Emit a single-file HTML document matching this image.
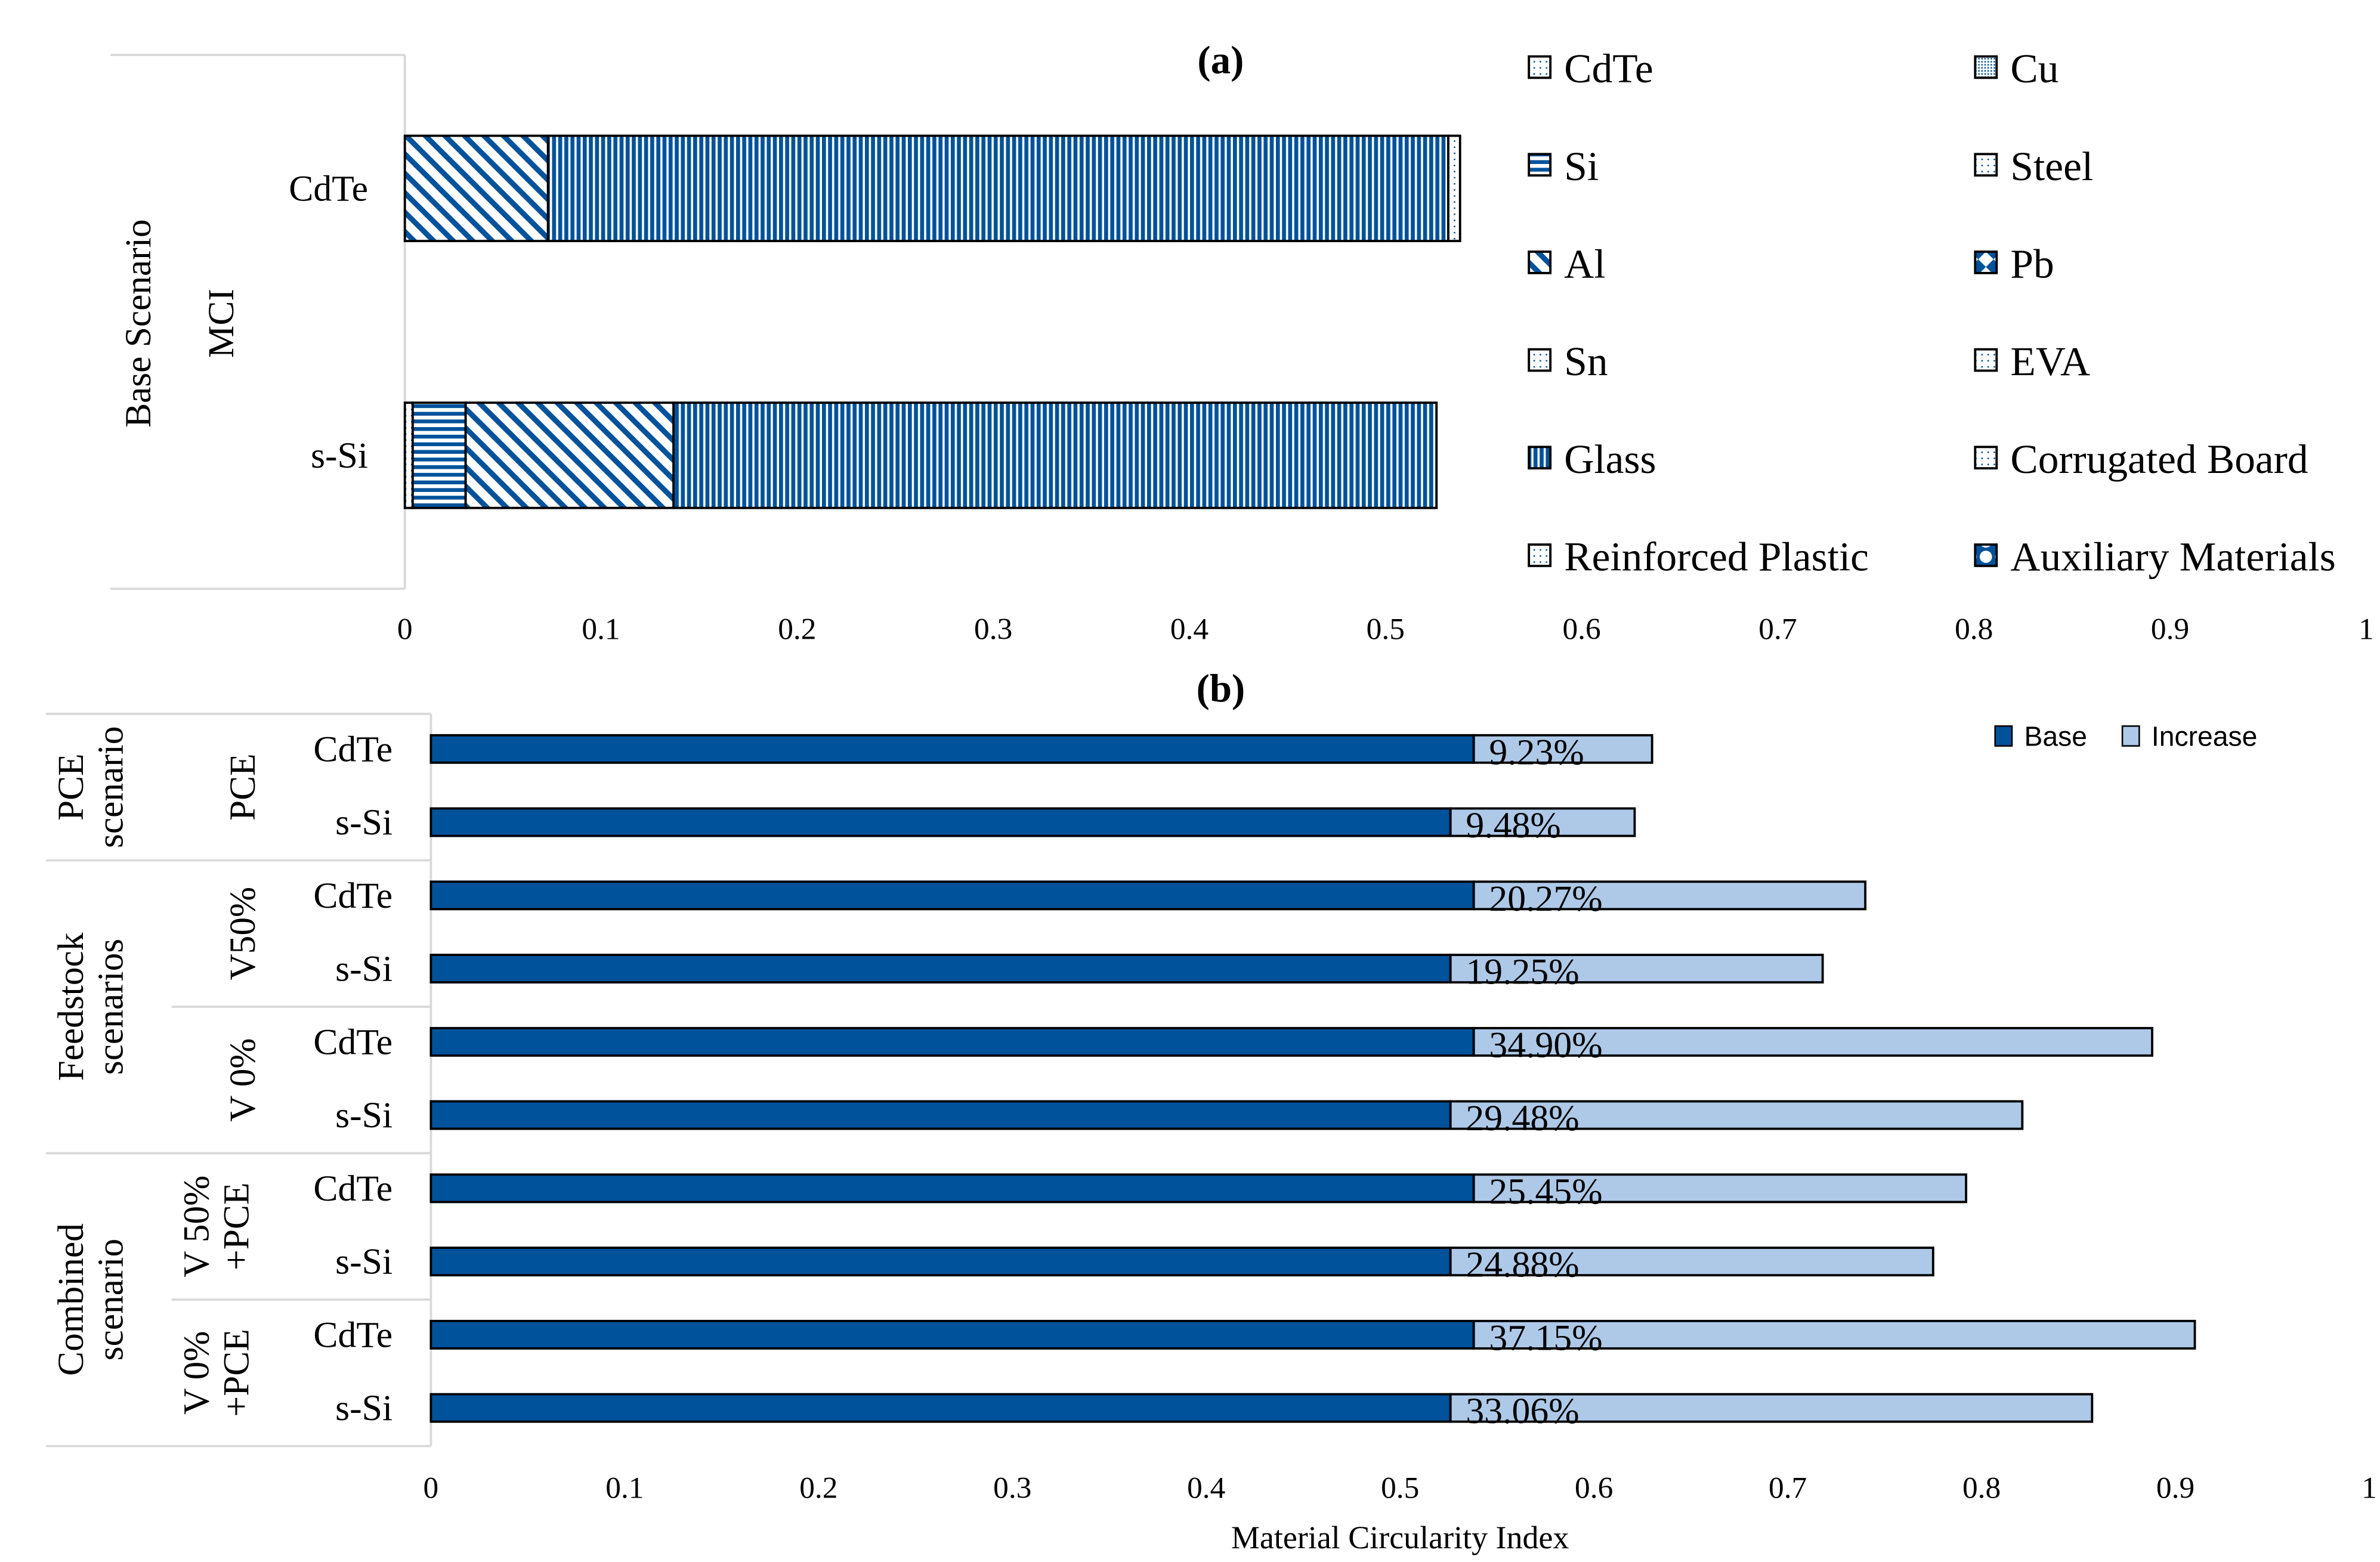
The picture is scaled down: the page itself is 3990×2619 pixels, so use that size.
<!DOCTYPE html>
<html><head><meta charset="utf-8"><style>
html,body{margin:0;padding:0;background:#fff;}
svg{display:block;}
text{font-family:"Liberation Serif",serif;fill:#000;}
</style></head><body>
<svg id="chart" width="3990" height="2619" viewBox="0 0 1552 1024" preserveAspectRatio="none" xmlns="http://www.w3.org/2000/svg">
<defs>
<pattern id="p-glass" width="4" height="4" patternUnits="userSpaceOnUse"><rect width="4" height="4" fill="#fff"/><rect width="2.6" height="4" fill="#00529b"/></pattern>
<pattern id="p-al" width="9" height="9" patternUnits="userSpaceOnUse" patternTransform="rotate(45)"><rect width="9" height="9" fill="#fff"/><rect width="9" height="3.5" fill="#00529b"/></pattern>
<pattern id="p-si" width="5" height="5" patternUnits="userSpaceOnUse"><rect width="5" height="5" fill="#fff"/><rect width="5" height="2.5" fill="#00529b"/></pattern>
<pattern id="p-dot" width="4" height="4" patternUnits="userSpaceOnUse"><rect width="4" height="4" fill="#fff"/><rect width="1" height="1" fill="#00529b"/></pattern>
<pattern id="p-cu" width="2" height="2" patternUnits="userSpaceOnUse"><rect width="2" height="2" fill="#fff"/><rect width="1" height="1" fill="#00529b"/></pattern>
<pattern id="p-aux" width="10" height="10" patternUnits="userSpaceOnUse"><rect width="10" height="10" fill="#00529b"/><circle cx="5" cy="5" r="4" fill="#fff"/></pattern>
<pattern id="p-pb" width="10" height="10" patternUnits="userSpaceOnUse"><rect width="10" height="10" fill="#fff"/><path d="M0 0L5 5L0 10Z M10 0L5 5L10 10Z" fill="#00529b"/></pattern>
</defs>
<g id="panel-a"></g>
<g id="panel-b"></g>
</svg>
<script>
// ---- Panel (a) data ----
const aCategories = ["CdTe", "s-Si"];
const aMaterials = ["Sn", "Si", "Al", "Glass", "EVA"];
const aCdTe = [0, 0, 0.073, 0.459, 0.006];
const aSSi = [0.004, 0.027, 0.106, 0.389, 0];
const aTicks = ["0","0.1","0.2","0.3","0.4","0.5","0.6","0.7","0.8","0.9","1"];
const legendNames = ["CdTe","Cu","Si","Steel","Al","Pb","Sn","EVA","Glass","Corrugated Board","Reinforced Plastic","Auxiliary Materials"];
// ---- Panel (b) data ----
const bCategories = ["CdTe","s-Si","CdTe","s-Si","CdTe","s-Si","CdTe","s-Si","CdTe","s-Si"];
const bBase = [0.538,0.526,0.538,0.526,0.538,0.526,0.538,0.526,0.538,0.526];
const bTotal = [0.630,0.621,0.740,0.718,0.888,0.821,0.792,0.775,0.910,0.857];
const bLabels = ["9.23%","9.48%","20.27%","19.25%","34.90%","29.48%","25.45%","24.88%","37.15%","33.06%"];
const bTicks = ["0","0.1","0.2","0.3","0.4","0.5","0.6","0.7","0.8","0.9","1"];

const NS="http://www.w3.org/2000/svg";
function mk(tag, attrs, parent, txt){const e=document.createElementNS(NS,tag);for(const k in attrs)e.setAttribute(k,attrs[k]);if(txt!==undefined)e.textContent=txt;parent.appendChild(e);return e;}
const fillFor={Sn:"url(#p-dot)",Si:"url(#p-si)",Al:"url(#p-al)",Glass:"url(#p-glass)",EVA:"url(#p-dot)"};
const legendFill={"CdTe":"url(#p-dot)","Cu":"url(#p-cu)","Si":"url(#p-si)","Steel":"url(#p-dot)","Al":"url(#p-al)","Pb":"url(#p-pb)","Sn":"url(#p-dot)","EVA":"url(#p-dot)","Glass":"url(#p-glass)","Corrugated Board":"url(#p-dot)","Reinforced Plastic":"url(#p-dot)","Auxiliary Materials":"url(#p-aux)"};

// ----- Panel a -----
const A=document.getElementById('panel-a');
const ax0=264, ax1=1543;
const xa=v=>ax0+v*(ax1-ax0);
const aRowY=[89,264], aBarH=69;
let t;
t=mk('text',{x:796,y:48,'text-anchor':'middle','font-size':26,'font-weight':'bold'},A,"(a)");

let l=mk('line',{x1:72,y1:36,x2:264,y2:36,stroke:'#d9d9d9','stroke-width':1.5},A);

l=mk('line',{x1:72,y1:386,x2:264,y2:386,stroke:'#d9d9d9','stroke-width':1.5},A);

l=mk('line',{x1:264,y1:36,x2:264,y2:386,stroke:'#d9d9d9','stroke-width':1.5},A);

t=mk('text',{x:0,y:0,transform:'translate(98,212) rotate(-90)','text-anchor':'middle','font-size':24},A,"Base Scenario");

t=mk('text',{x:0,y:0,transform:'translate(152,212) rotate(-90)','text-anchor':'middle','font-size':24},A,"MCI");

const aSeries=[aCdTe,aSSi];
aCategories.forEach((c,i)=>{
  const lab=mk('text',{x:240,y:aRowY[i]+aBarH/2+8,'text-anchor':'end','font-size':24},A,c);
  
  
  let acc=0;
  aMaterials.forEach((m,j)=>{
    const v=aSeries[i][j];
    if(v>0){
      const r=mk('rect',{x:xa(acc),y:aRowY[i],width:xa(acc+v)-xa(acc),height:aBarH,fill:fillFor[m],stroke:'#000','stroke-width':1.5},A);
      
      
    }
    acc+=v;
  });
});
aTicks.forEach((tk,i)=>{
  const tt=mk('text',{x:xa(i/10),y:419,'text-anchor':'middle','font-size':20},A,tk);
  
  
});
legendNames.forEach((n,i)=>{
  const col=i%2,row=Math.floor(i/2);
  const bx=col?1288:997, by=44+row*64;
  const g=mk('g',{},A);
  
  
  mk('rect',{x:bx,y:by-7,width:14,height:14,fill:legendFill[n],stroke:'#000','stroke-width':1.5},g);
  mk('text',{x:bx+23,y:by+10,'font-size':27},g,n);
});

// ----- Panel b -----
const B=document.getElementById('panel-b');
const bx0=281, bx1=1545;
const xb=v=>bx0+v*(bx1-bx0);
const rowY=i=>491+i*48, bH=18;
t=mk('text',{x:796,y:460,'text-anchor':'middle','font-size':26,'font-weight':'bold'},B,"(b)");

[[30,468],[30,564],[30,756],[30,948],[112,660],[112,852]].forEach(([x,y])=>{
  const ln=mk('line',{x1:x,y1:y,x2:281,y2:y,stroke:'#d9d9d9','stroke-width':1.5},B);
  
  
});
l=mk('line',{x1:281,y1:468,x2:281,y2:948,stroke:'#d9d9d9','stroke-width':1.5},B);

function rot(lines,x,y,name){
  const tt=mk('text',{x:0,y:0,transform:`translate(${x},${y}) rotate(-90)`,'text-anchor':'middle','font-size':24},B);
  lines.forEach((s,k)=>mk('tspan',{x:0,dy:k?26:0},tt,s));
  
  
}
rot(["PCE","scenario"],54,516,'group-pce-scenario');
rot(["Feedstock","scenarios"],54,660,'group-feedstock-scenarios');
rot(["Combined","scenario"],54,852,'group-combined-scenario');
rot(["PCE"],166,516,'subgroup-pce');
rot(["V50%"],166,612,'subgroup-v50');
rot(["V 0%"],166,708,'subgroup-v0');
rot(["V 50%","+PCE"],136,804,'subgroup-v50-pce');
rot(["V 0%","+PCE"],136,900,'subgroup-v0-pce');
bCategories.forEach((c,i)=>{
  const y=rowY(i)-bH/2;
  const lab=mk('text',{x:256,y:rowY(i)+8,'text-anchor':'end','font-size':24},B,c);
  
  
  const r1=mk('rect',{x:xb(0),y:y,width:xb(bBase[i])-xb(0),height:bH,fill:'#00529b',stroke:'#000','stroke-width':1.5},B);
  
  
  const r2=mk('rect',{x:xb(bBase[i]),y:y,width:xb(bTotal[i])-xb(bBase[i]),height:bH,fill:'#aec9e8',stroke:'#000','stroke-width':1.5},B);
  
  
  const vl=mk('text',{x:xb(bBase[i])+10,y:rowY(i)+10,'font-size':24},B,bLabels[i]);
  
  
});
bTicks.forEach((tk,i)=>{
  const tt=mk('text',{x:xb(i/10),y:982,'text-anchor':'middle','font-size':20},B,tk);
  
  
});
t=mk('text',{x:913,y:1015,'text-anchor':'middle','font-size':21},B,"Material Circularity Index");

[["Base","#00529b",1301],["Increase","#aec9e8",1384]].forEach(([n,c,x])=>{
  const g=mk('g',{},B);
  
  
  mk('rect',{x:x,y:476,width:11,height:13,fill:c,stroke:'#000','stroke-width':1},g);
  const tx=mk('text',{x:x+19,y:489,'font-size':18},g,n);
  tx.setAttribute('style','font-family:"Liberation Sans",sans-serif');
});
</script>
</body></html>
